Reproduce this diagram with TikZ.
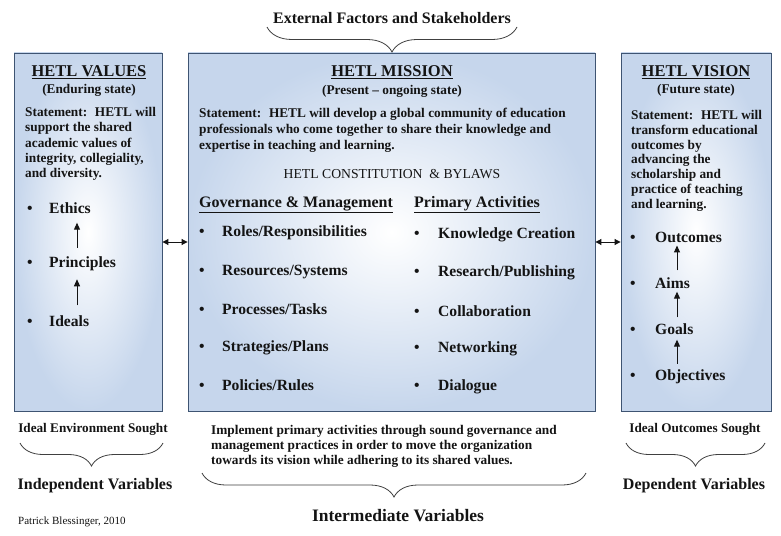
\documentclass[tikz,border=0pt]{standalone}
\usepackage{fontspec}
\setmainfont{Liberation Serif}
\usetikzlibrary{arrows.meta,decorations.pathreplacing,calc}
\definecolor{boxedge}{RGB}{62,84,114}
\definecolor{boxfill}{RGB}{198,214,236}
\definecolor{ink}{RGB}{20,20,20}
\begin{document}
\begin{tikzpicture}[x=1pt,y=-1pt,
  panel/.style={draw=boxedge, line width=0.9pt, inner color=white, outer color=boxfill, inner sep=0pt},
  ttl/.style={font=\fontsize{16.5}{19}\selectfont\bfseries, text=ink, inner sep=0pt},
  sub/.style={font=\fontsize{13.3}{15}\selectfont\bfseries, text=ink, inner sep=0pt},
  stmt/.style={font=\fontsize{13.3}{16}\selectfont\bfseries, text=ink, align=left, inner sep=0pt, anchor=north west},
  item/.style={font=\fontsize{15.6}{17}\selectfont\bfseries, text=ink, inner sep=0pt, anchor=west},
  lbl/.style={font=\fontsize{13.2}{15}\selectfont\bfseries, text=ink, inner sep=0pt},
  big/.style={font=\fontsize{16}{18}\selectfont\bfseries, text=ink, inner sep=0pt},
  upar/.style={-{Triangle[length=7pt,width=6pt]}, line width=1pt, draw=ink},
  dblar/.style={{Triangle[length=6pt,width=6pt]}-{Triangle[length=6pt,width=6pt]}, line width=1pt, draw=ink},
  brc/.style={decorate, decoration={brace, mirror, amplitude=#1}, draw=black!75, line width=0.8pt}
]
\useasboundingbox (0,0) rectangle (781,535);
\fill[white] (0,0) rectangle (781,535);

% panels
\node[panel, minimum width=148pt, minimum height=358pt] (values) at (88,232) {};
\node[panel, minimum width=407pt, minimum height=358pt] (mission) at (391.5,232) {};
\node[panel, minimum width=150pt, minimum height=358pt] (vision) at (696,232) {};

% top
\node[big] (ext) at (392,18) {External Factors and Stakeholders};
\coordinate (tbl) at (267,27);
\coordinate (tbr) at (517,27);
\draw[brc=25] (tbl) -- (tbr);

% values panel
\node[ttl] (valttl) at (89,72) {\underline{HETL VALUES}};
\node[sub] (valsub) at (89,90) {(Enduring state)};
\node[stmt, font=\fontsize{13.3}{15.3}\selectfont\bfseries] (valstmt) at (25,107) {Statement:~ HETL will\\support the shared\\academic values of\\integrity, collegiality,\\and diversity.};
\node[item] (ethics) at (27,208) {\makebox[22pt][l]{\textbullet}Ethics};
\node[item] (principles) at (27,264) {\makebox[22pt][l]{\textbullet}Principles};
\node[item] (ideals) at (27,321) {\makebox[22pt][l]{\textbullet}Ideals};
\draw[upar] ($(principles.north west)+(50,-9)$) -- ($(ethics.south west)+(50,9)$);
\draw[upar] ($(ideals.north west)+(50,-10)$) -- ($(principles.south west)+(50,8)$);

% mission panel
\node[ttl] (misttl) at (392,72) {\underline{HETL MISSION}};
\node[sub] (missub) at (392,91) {(Present -- ongoing state)};
\node[stmt] (misstmt) at (199,108) {Statement:~ HETL will develop a global community of education\\professionals who come together to share their knowledge and\\expertise in teaching and learning.};
\node[font=\fontsize{13.7}{15}\selectfont, text=ink, inner sep=0pt] (const) at (392,174) {HETL CONSTITUTION ~\& BYLAWS};
\node[item, font=\fontsize{16}{18}\selectfont\bfseries] (gov) at (199,205) {\underline{Governance \& Management}};
\node[item, font=\fontsize{16}{18}\selectfont\bfseries] (prim) at (414,205) {\underline{Primary Activities}};
\node[item] (roles) at (199,233) {\makebox[23pt][l]{\textbullet}Roles/Responsibilities};
\node[item] (res) at (199,272) {\makebox[23pt][l]{\textbullet}Resources/Systems};
\node[item] (proc) at (199,309) {\makebox[23pt][l]{\textbullet}Processes/Tasks};
\node[item] (strat) at (199,348) {\makebox[23pt][l]{\textbullet}Strategies/Plans};
\node[item] (pol) at (199,385) {\makebox[23pt][l]{\textbullet}Policies/Rules};
\node[item] (know) at (414,235) {\makebox[24pt][l]{\textbullet}Knowledge Creation};
\node[item] (resp) at (414,273) {\makebox[24pt][l]{\textbullet}Research/Publishing};
\node[item] (coll) at (414,311) {\makebox[24pt][l]{\textbullet}Collaboration};
\node[item] (net) at (414,349) {\makebox[24pt][l]{\textbullet}Networking};
\node[item] (dia) at (414,387) {\makebox[24pt][l]{\textbullet}Dialogue};

% vision panel
\node[ttl] (visttl) at (696,72) {\underline{HETL VISION}};
\node[sub] (vissub) at (696,90) {(Future state)};
\node[stmt, font=\fontsize{13.3}{14.8}\selectfont\bfseries] (visstmt) at (631,110) {Statement:~ HETL will\\transform educational\\outcomes by\\advancing the\\scholarship and\\practice of teaching\\and learning.};
\node[item] (outc) at (630,237) {\makebox[25pt][l]{\textbullet}Outcomes};
\node[item] (aims) at (630,283) {\makebox[25pt][l]{\textbullet}Aims};
\node[item] (goals) at (630,329) {\makebox[25pt][l]{\textbullet}Goals};
\node[item] (obj) at (630,377) {\makebox[25pt][l]{\textbullet}Objectives};
\draw[upar] ($(aims.north west)+(47,-7)$) -- ($(outc.south west)+(47,3)$);
\draw[upar] ($(goals.north west)+(47,-6)$) -- ($(aims.south west)+(47,3)$);
\draw[upar] ($(obj.north west)+(47,-6)$) -- ($(goals.south west)+(47,5)$);

% double arrows
\draw[dblar] (values.east |- 0,242) -- (mission.west |- 0,242);
\draw[dblar] (mission.east |- 0,242) -- (vision.west |- 0,242);

% bottom left
\node[lbl] (envs) at (93,429) {Ideal Environment Sought};
\coordinate (blbl) at (20,443);
\coordinate (blbr) at (163,443);
\draw[brc=23] (blbl) -- (blbr);
\node[big] (indep) at (95,486) {Independent Variables};
\node[font=\fontsize{11}{13}\selectfont, text=ink, inner sep=0pt, anchor=west] (auth) at (18,522) {Patrick Blessinger, 2010};

% bottom middle
\node[stmt, font=\fontsize{13.3}{15}\selectfont\bfseries] (impl) at (211,425) {Implement primary activities through sound governance and\\management practices in order to move the organization\\towards its vision while adhering to its shared values.};
\coordinate (bmbl) at (202,473);
\coordinate (bmbr) at (586,473);
\draw[brc=24] (bmbl) -- (bmbr);
\node[big, font=\fontsize{17.5}{20}\selectfont\bfseries] (inter) at (398,516) {Intermediate Variables};

% bottom right
\node[lbl] (outs) at (695,429) {Ideal Outcomes Sought};
\coordinate (brbl) at (626,443);
\coordinate (brbr) at (765,443);
\draw[brc=23] (brbl) -- (brbr);
\node[big] (dep) at (694,486) {Dependent Variables};
\end{tikzpicture}
\end{document}
